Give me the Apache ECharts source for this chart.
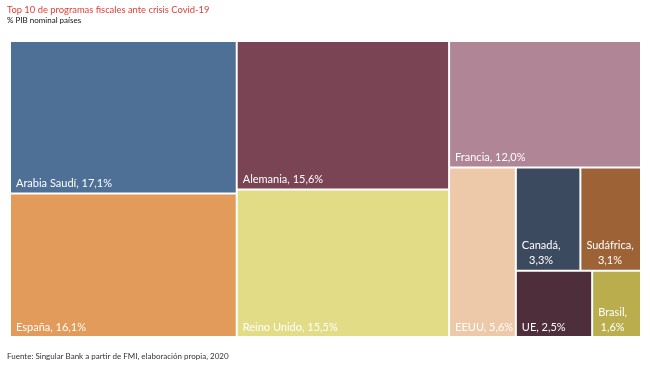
<!DOCTYPE html>
<html>
<head>
<meta charset="utf-8">
<script src="https://cdn.jsdelivr.net/npm/echarts@6/dist/echarts.min.js"></script>
<style>
html,body{margin:0;padding:0;background:#fff;}
#chart{width:650px;height:366px;}
</style>
</head>
<body>
<div id="chart"></div>
<script>
// Data
const countries = ['Arabia Saudí', 'España', 'Alemania', 'Reino Unido', 'Francia', 'EEUU', 'Canadá', 'Sudáfrica', 'UE', 'Brasil'];
const values = [17.1, 16.1, 15.6, 15.5, 12.0, 5.6, 3.3, 3.1, 2.5, 1.6];
const colors = ['#4f7096', '#e39b5c', '#7b4455', '#e3dc87', '#b08596', '#edc9a9', '#3c4a5f', '#9d6337', '#4f2e3c', '#b9ad4d'];
const wrappedLabels = ['Canadá', 'Sudáfrica', 'Brasil'];

// Grouping of the tiles (indices into the arrays above), mimicking the original arrangement
const grouping = [[0, 1], [2, 3], [4, [5, [[6, 7], [8, 9]]]]];

const LABEL_FONT = 'Lato';
const LABEL_SIZE = 11;
const LINE_H = 15;
const PAD_LEFT = 4;
const PAD_BOTTOM = 1.5;

function fmt(v) { return v.toFixed(1).replace('.', ','); }
function labelLines(i) {
  const v = fmt(values[i]) + '%';
  return wrappedLabels.indexOf(countries[i]) >= 0 ? [countries[i] + ',', v] : [countries[i] + ', ' + v];
}

const ctx = document.createElement('canvas').getContext('2d');
ctx.font = LABEL_SIZE + 'px ' + LABEL_FONT;

function build(node, dims) {
  if (typeof node === 'number') {
    const item = {
      name: countries[node],
      value: values[node],
      itemStyle: { color: colors[node], borderWidth: 1, borderColor: '#ffffff' }
    };
    const l = dims && dims[countries[node]];
    if (l) {
      const lines = labelLines(node);
      const cw = l.width - 2 * l.borderWidth;
      const ch = l.height - 2 * l.borderWidth;
      const tw = Math.max.apply(null, lines.map(s => ctx.measureText(s).width));
      const padTop = Math.max(0, ch - lines.length * LINE_H - PAD_BOTTOM);
      const padRight = Math.max(0, cw - PAD_LEFT - tw - 2);
      item.label = { padding: [padTop, padRight, PAD_BOTTOM, PAD_LEFT] };
    }
    return item;
  }
  const children = node.map(n => build(n, dims));
  const sum = children.reduce((s, c) => s + c.value, 0);
  return { name: '', value: sum, children: children, itemStyle: { borderWidth: 0, gapWidth: 0 } };
}

function makeOption(dims) {
  return {
    animation: false,
    title: [
      { text: 'Top 10 de programas fiscales ante crisis Covid-19', left: 7, top: 5, padding: 0,
        textStyle: { fontFamily: 'Lato', fontSize: 9.4, fontWeight: 'normal', color: '#e0403a' } },
      { text: '% PIB nominal países', left: 7, top: 16, padding: 0,
        textStyle: { fontFamily: 'Lato', fontSize: 8, fontWeight: 'normal', color: '#111111' } },
      { text: 'Fuente: Singular Bank a partir de FMI, elaboración propia, 2020', left: 7, top: 352, padding: 0,
        textStyle: { fontFamily: 'Lato', fontSize: 8, fontWeight: 'normal', color: '#333333' } }
    ],
    series: [{
      type: 'treemap',
      left: 10, top: 41, right: 9, bottom: 29,
      roam: false,
      nodeClick: false,
      sort: false,
      squareRatio: 1,
      breadcrumb: { show: false },
      itemStyle: { borderWidth: 0, gapWidth: 0 },
      label: {
        show: true,
        position: 'insideTopLeft',
        distance: 0,
        padding: [0, 0, 0, PAD_LEFT],
        color: '#ffffff',
        fontFamily: LABEL_FONT,
        fontSize: LABEL_SIZE,
        lineHeight: LINE_H,
        formatter: function (p) {
          const i = countries.indexOf(p.name);
          if (i < 0) return '';
          return labelLines(i).map(s => '{c|' + s + '}').join('\n');
        },
        rich: {
          c: { align: 'center', color: '#ffffff', fontFamily: LABEL_FONT, fontSize: LABEL_SIZE, lineHeight: LINE_H }
        }
      },
      upperLabel: { show: false },
      emphasis: { disabled: true },
      data: grouping.map(n => build(n, dims))
    }]
  };
}

const chart = echarts.init(document.getElementById('chart'), null, { renderer: 'canvas' });
chart.setOption(makeOption(null));

// second pass: read the tile sizes computed by the treemap layout to anchor labels at bottom-left
const dims = {};
try {
  const tree = chart.getModel().getSeriesByIndex(0).getData().tree;
  tree.root.eachNode(function (n) {
    if (!n.children || !n.children.length) {
      const l = n.getLayout();
      if (l) dims[n.name] = l;
    }
  });
} catch (e) {}
chart.setOption(makeOption(dims), true);
</script>
</body>
</html>
